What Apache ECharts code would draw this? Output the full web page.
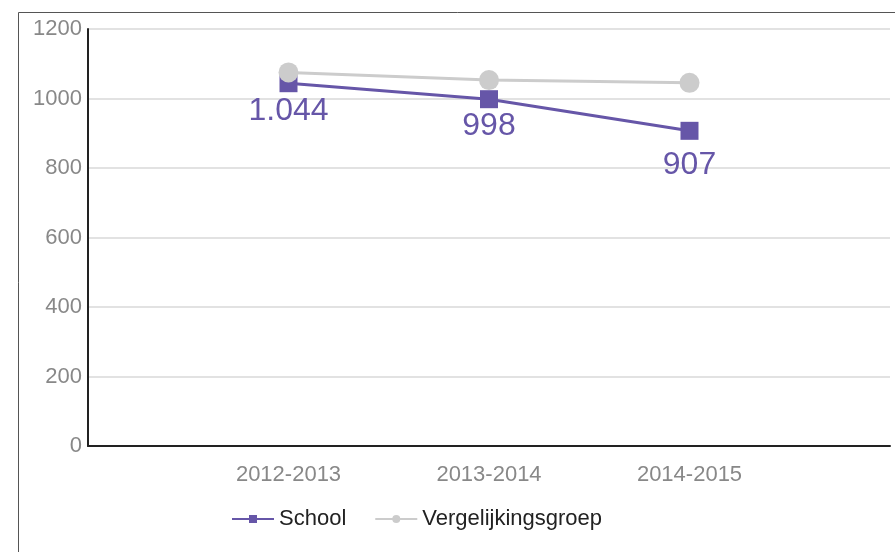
<!DOCTYPE html>
<html>
<head>
<meta charset="utf-8">
<script src="https://cdn.jsdelivr.net/npm/echarts@6/dist/echarts.min.js"></script>
<style>
html, body { margin: 0; padding: 0; background: #fff; }
#chart { width: 895px; height: 552px; }
</style>
</head>
<body>
<div id="chart"></div>
<script>
// schooljaren
var years = ['2012-2013', '2013-2014', '2014-2015'];
var school = [1044, 998, 907];
var vergelijking = [1075, 1053, 1045];
var yTicks = [0, 200, 400, 600, 800, 1000, 1200];
// extra verschuiving van de labels (px), het laatste label staat lager
var labelShift = [1, 0, 7];

// lege categorie aan begin en eind, zodat de punten naar binnen schuiven
var cats = [''].concat(years, ['']);
function pad(arr) { return [null].concat(arr, [null]); }

function nlNumber(v) {
    return String(v).replace(/\B(?=(\d{3})+(?!\d))/g, '.');
}

var schoolData = pad(school.map(function (v, i) {
    return { value: v, label: { offset: [0, labelShift[i]] } };
}));

var chartDom = document.getElementById('chart');
var myChart = echarts.init(chartDom);
var option = {
    animation: false,
    textStyle: { fontFamily: 'Liberation Sans, Arial, sans-serif' },
    graphic: [{
        type: 'rect',
        shape: { x: 18.5, y: 12.5, width: 900, height: 600 },
        style: { fill: 'none', stroke: '#555', lineWidth: 1 },
        silent: true
    }],
    grid: { left: 88, right: 5, top: 29, bottom: 106 },
    legend: {
        left: 226,
        top: 503,
        itemWidth: 42,
        itemHeight: 10,
        itemGap: 28,
        textStyle: { fontSize: 22, color: '#222' },
        data: ['School', 'Vergelijkingsgroep']
    },
    xAxis: {
        type: 'category',
        data: cats,
        boundaryGap: false,
        axisLine: { lineStyle: { color: '#222', width: 2 } },
        axisTick: { show: false },
        axisLabel: { color: '#888', fontSize: 22, margin: 18 },
        splitLine: { show: false }
    },
    yAxis: {
        type: 'value',
        min: yTicks[0],
        max: yTicks[yTicks.length - 1],
        interval: 200,
        axisLine: { show: true, lineStyle: { color: '#222', width: 2 } },
        axisTick: { show: false },
        axisLabel: {
            color: '#888', fontSize: 22, margin: 6,
            formatter: function (v) { return String(v); }
        },
        splitLine: { lineStyle: { color: '#e2e2e2', width: 2 } }
    },
    series: [
        {
            name: 'School',
            type: 'line',
            data: schoolData,
            symbol: 'rect',
            symbolSize: 18,
            color: '#6656a8',
            lineStyle: { width: 3, color: '#6656a8' },
            itemStyle: { color: '#6656a8' },
            label: {
                show: true,
                position: 'bottom',
                distance: 2,
                fontSize: 32,
                color: '#6656a8',
                formatter: function (p) { return nlNumber(p.value); }
            }
        },
        {
            name: 'Vergelijkingsgroep',
            type: 'line',
            data: pad(vergelijking),
            symbol: 'circle',
            symbolSize: 20,
            color: '#cccccc',
            lineStyle: { width: 3, color: '#cccccc' },
            itemStyle: { color: '#cccccc' }
        }
    ]
};
option && myChart.setOption(option);
</script>
</body>
</html>
